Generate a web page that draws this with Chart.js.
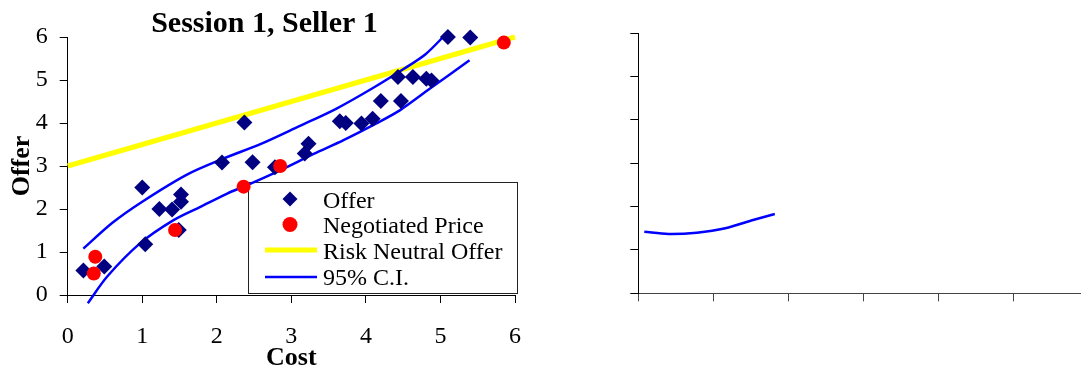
<!DOCTYPE html>
<html><head><meta charset="utf-8">
<script src="https://cdn.jsdelivr.net/npm/chart.js@4/dist/chart.umd.min.js"></script>
<style>
html,body{margin:0;padding:0;background:#fff;overflow:hidden;width:1081px;height:375px;position:relative;}
#c1{position:absolute;left:0;top:0;}
#c2{position:absolute;left:590px;top:0;}
</style></head><body>
<canvas id="c1" width="530" height="375"></canvas>
<canvas id="c2" width="510" height="375"></canvas>
<script>
// ---- data (left panel: Session 1, Seller 1) ----
const chartTitle = 'Session 1, Seller 1';
const xAxisTitle = 'Cost';
const yAxisTitle = 'Offer';
const legendLabels = ['Offer', 'Negotiated Price', 'Risk Neutral Offer', '95% C.I.'];

const offerCost  = [0.21,0.49,1.00,1.04,1.23,1.40,1.52,1.52,1.49,2.07,2.37,2.48,2.78,3.18,3.23,3.65,3.73,3.94,4.09,4.20,4.47,4.43,4.63,4.81,4.88,5.10,5.40];
const offerPrice = [0.57,0.66,2.50,1.18,2.00,1.99,2.34,2.17,1.51,3.08,4.01,3.09,2.97,3.29,3.52,4.04,4.00,3.99,4.10,4.51,4.51,5.07,5.07,5.03,4.99,6.00,5.99];

const negCost  = [0.37,0.35,1.44,2.36,2.85,5.85];
const negPrice = [0.89,0.50,1.51,2.52,3.00,5.87];

const rnCost  = [0, 6];
const rnOffer = [3, 6];

const ciUpperCost = [0.21,0.60,1.00,1.60,2.10,2.60,3.10,3.60,4.10,4.50,4.80,5.07];
const ciUpperVal  = [1.08,1.68,2.17,2.80,3.18,3.52,3.92,4.33,4.82,5.25,5.60,6.06];
const ciLowerCost = [0.27,0.53,0.97,1.42,1.78,2.14,2.36,2.85,3.30,3.70,4.14,4.46,4.86,5.39];
const ciLowerVal  = [-0.19,0.43,1.20,1.74,2.05,2.36,2.52,2.90,3.28,3.60,3.99,4.30,4.80,5.46];

// ---- data (right panel, empty axes with one C.I. curve) ----
const rightCost = [0.08,0.40,0.78,1.16,1.53,1.82];
const rightVal  = [1.42,1.37,1.40,1.50,1.69,1.83];

const axisMin = 0, axisMax = 6, axisStep = 1;

const zip = (xs, ys) => xs.map((x, i) => ({x: x, y: ys[i]}));
const SERIF = 'Liberation Serif';

const titlePlugin = {
  id: 'ownTitle',
  afterDraw(chart) {
    const ctx = chart.ctx;
    ctx.save();
    ctx.fillStyle = '#000';
    ctx.font = 'bold 30px "' + SERIF + '"';
    ctx.textAlign = 'center';
    ctx.textBaseline = 'alphabetic';
    ctx.fillText(chartTitle, 264.5, 32);
    ctx.restore();
  }
};

const legendPlugin = {
  id: 'boxLegend',
  beforeDatasetsDraw(chart) {
    const ctx = chart.ctx;
    ctx.save();
    const bx = 248.5, by = 182.5, bw = 269, bh = 111;
    ctx.fillStyle = '#fff';
    ctx.fillRect(bx, by, bw, bh);
    ctx.strokeStyle = '#222';
    ctx.lineWidth = 1;
    ctx.strokeRect(bx, by, bw, bh);
    const baselines = [207.5, 233, 258.5, 285];
    const centers = [199, 224.5, 250, 277];
    ctx.fillStyle = '#000080';
    ctx.beginPath();
    ctx.moveTo(290, centers[0] - 7.5); ctx.lineTo(297.5, centers[0]);
    ctx.lineTo(290, centers[0] + 7.5); ctx.lineTo(282.5, centers[0]);
    ctx.closePath(); ctx.fill();
    ctx.fillStyle = '#FF0000';
    ctx.beginPath(); ctx.arc(290, centers[1], 7.5, 0, Math.PI * 2); ctx.fill();
    ctx.strokeStyle = '#FFFF00'; ctx.lineWidth = 5;
    ctx.beginPath(); ctx.moveTo(265, centers[2]); ctx.lineTo(317, centers[2]); ctx.stroke();
    ctx.strokeStyle = '#0000FF'; ctx.lineWidth = 2.5;
    ctx.beginPath(); ctx.moveTo(265, centers[3]); ctx.lineTo(317, centers[3]); ctx.stroke();
    ctx.fillStyle = '#000';
    ctx.font = '24px "' + SERIF + '"';
    ctx.textBaseline = 'alphabetic';
    ctx.textAlign = 'left';
    legendLabels.forEach((t, i) => ctx.fillText(t, 323, baselines[i]));
    ctx.restore();
  }
};

new Chart(document.getElementById('c1'), {
  type: 'scatter',
  data: {
    datasets: [
      { label: legendLabels[1], data: zip(negCost, negPrice), order: 0, clip: false,
        pointStyle: 'circle', pointRadius: 7, pointBackgroundColor: '#FF0000', pointBorderColor: '#FF0000', pointBorderWidth: 0, showLine: false },
      { label: legendLabels[0], data: zip(offerCost, offerPrice), order: 1, clip: false,
        pointStyle: 'rectRot', pointRadius: 8, pointBackgroundColor: '#000080', pointBorderColor: '#000080', pointBorderWidth: 0, showLine: false },
      { label: legendLabels[3], data: zip(ciUpperCost, ciUpperVal), order: 2, clip: false,
        showLine: true, borderColor: '#0000FF', borderWidth: 2.5, pointRadius: 0, tension: 0.3, fill: false },
      { label: legendLabels[3] + ' lower', data: zip(ciLowerCost, ciLowerVal), order: 2, clip: false,
        showLine: true, borderColor: '#0000FF', borderWidth: 2.5, pointRadius: 0, tension: 0.3, fill: false },
      { label: legendLabels[2], data: zip(rnCost, rnOffer), order: 3, clip: false,
        showLine: true, borderColor: '#FFFF00', borderWidth: 5, pointRadius: 0, fill: false }
    ]
  },
  options: {
    responsive: false, animation: false, devicePixelRatio: 1,
    layout: { padding: { left: 0, right: 15, top: 37, bottom: 0 } },
    plugins: {
      legend: { display: false }, tooltip: { enabled: false }, title: { display: false }
    },
    scales: {
      x: { type: 'linear', min: axisMin, max: axisMax,
        ticks: { stepSize: axisStep, color: '#000', font: { family: SERIF, size: 24 }, padding: 19, maxRotation: 0 },
        grid: { drawOnChartArea: false, drawTicks: true, tickLength: 8, color: '#000' },
        border: { display: true, color: '#000', width: 1 },
        title: { display: true, text: xAxisTitle, color: '#000',
          font: { family: SERIF, size: 26, weight: 'bold', lineHeight: 1.2 }, padding: { top: 0, bottom: 1 } },
        afterFit: s => { s.height = 80; s.paddingLeft = 0; s.paddingRight = 0; } },
      y: { type: 'linear', min: axisMin, max: axisMax,
        ticks: { stepSize: axisStep, color: '#000', font: { family: SERIF, size: 24 }, padding: 12 },
        grid: { drawOnChartArea: false, drawTicks: true, tickLength: 8, color: '#000' },
        border: { display: true, color: '#000', width: 1 },
        title: { display: true, text: yAxisTitle, color: '#000',
          font: { family: SERIF, size: 26, weight: 'bold', lineHeight: 1.2 }, padding: { top: 7, bottom: 0 } },
        afterFit: s => { s.width = 67.7; s.paddingTop = 0; s.paddingBottom = 0; } }
    }
  },
  plugins: [legendPlugin, titlePlugin]
});

new Chart(document.getElementById('c2'), {
  type: 'scatter',
  data: {
    datasets: [
      { label: legendLabels[3], data: zip(rightCost, rightVal), clip: false,
        showLine: true, borderColor: '#0000FF', borderWidth: 2.5, pointRadius: 0, tension: 0.3, fill: false }
    ]
  },
  options: {
    responsive: false, animation: false, devicePixelRatio: 1,
    layout: { padding: { left: 0, right: 11.7, top: 33.3, bottom: 0 } },
    plugins: { legend: { display: false }, tooltip: { enabled: false }, title: { display: false } },
    scales: {
      x: { type: 'linear', min: axisMin, max: axisMax,
        ticks: { stepSize: axisStep, display: false },
        grid: { drawOnChartArea: false, drawTicks: true, tickLength: 8, color: '#444' },
        border: { display: true, color: '#444', width: 1 },
        afterFit: s => { s.height = 81.7; } },
      y: { type: 'linear', min: axisMin, max: axisMax,
        ticks: { stepSize: axisStep, display: false },
        grid: { drawOnChartArea: false, drawTicks: true, tickLength: 8, color: '#000' },
        border: { display: true, color: '#000', width: 1 },
        afterFit: s => { s.width = 48.3; } }
    }
  }
});
</script>
</body></html>
